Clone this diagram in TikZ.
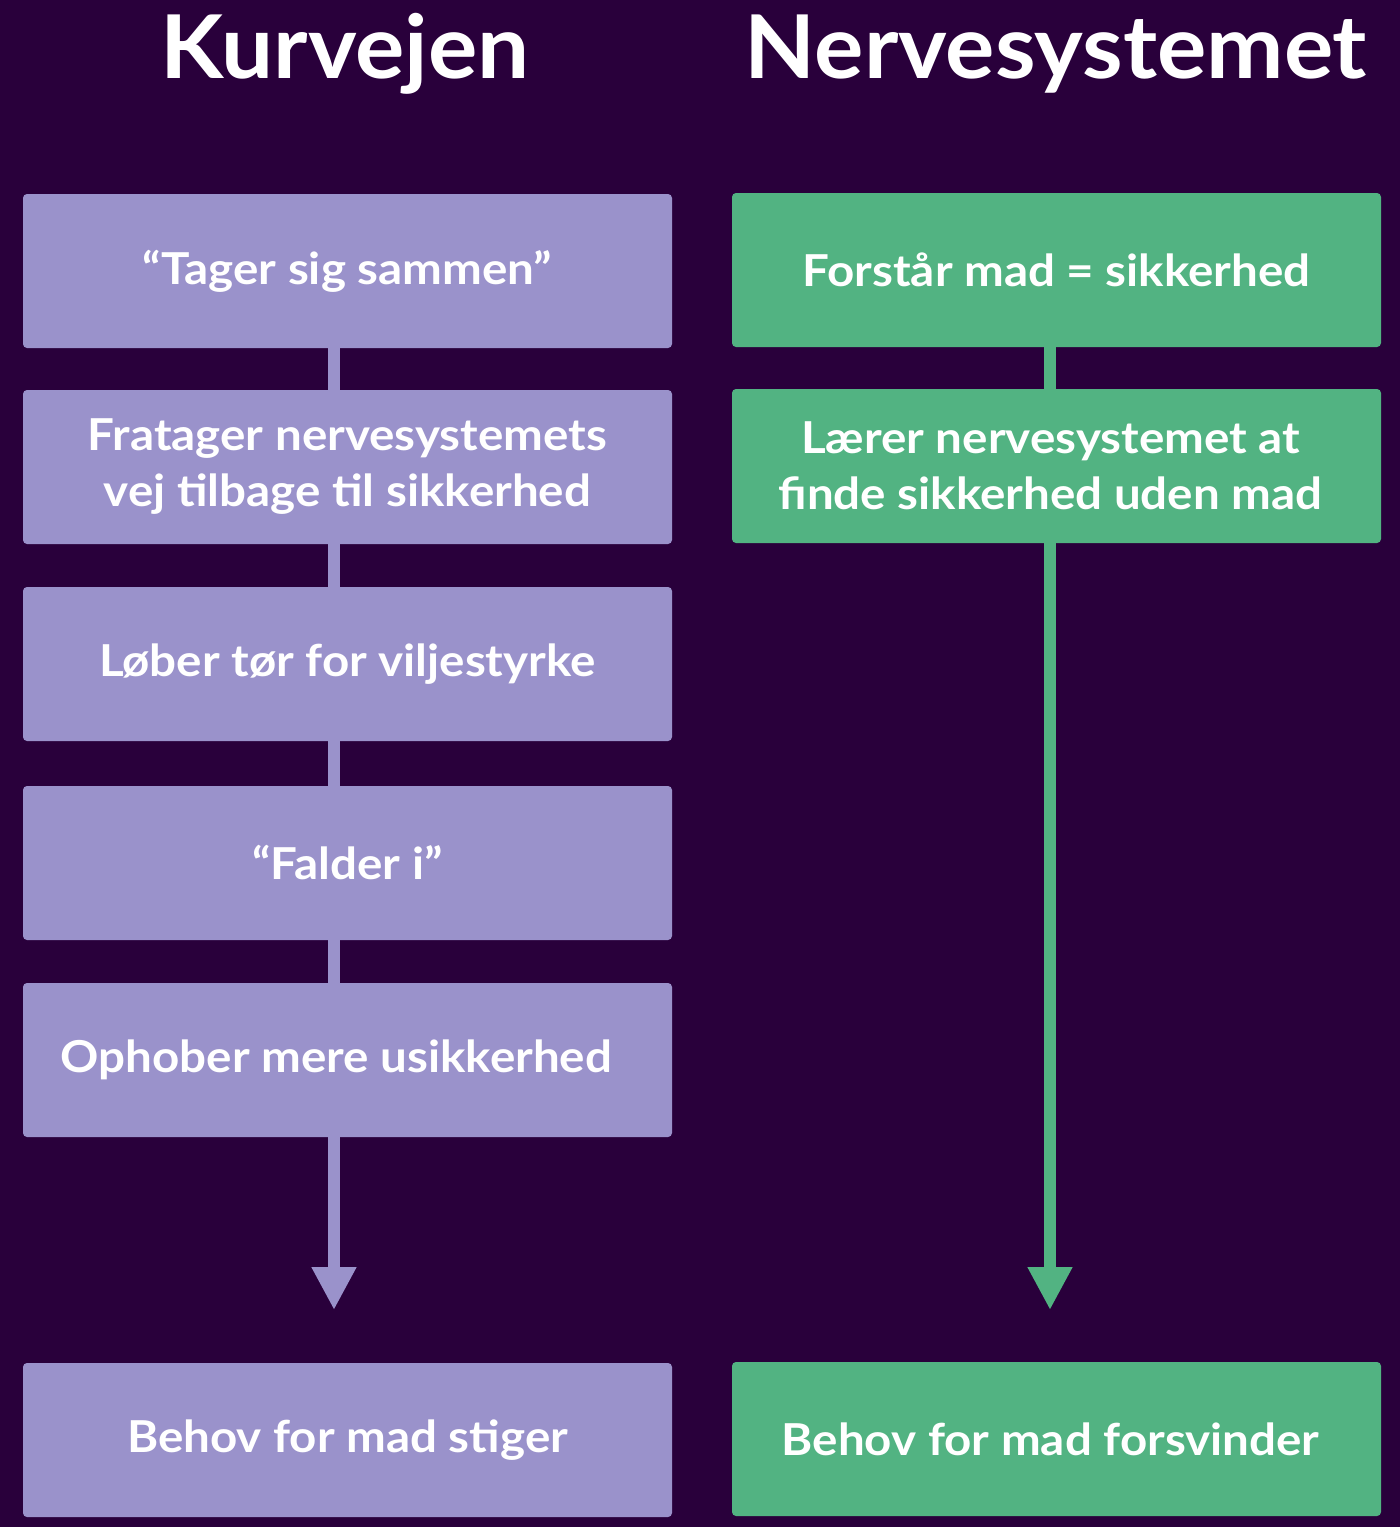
\documentclass[tikz,border=0pt]{standalone}
\usepackage{fontspec}
\setmainfont{Lato}[BoldFont={Lato Bold}]
\newfontfamily\bodyf{Lato}[BoldFont={Lato Bold}, FakeStretch=1.08]
\newfontfamily\titlef{Lato}[BoldFont={Lato Bold}, FakeStretch=1.05]
\usetikzlibrary{arrows.meta}
\definecolor{bgc}{HTML}{29003B}
\definecolor{lav}{HTML}{9A92CB}
\definecolor{grn}{HTML}{52B382}
\tikzset{
  box/.style={minimum width=649pt, minimum height=154pt, rounded corners=4pt, inner sep=0pt, text=white, align=center,
    font=\bodyf\fontsize{44}{56}\selectfont\bfseries},
  lbox/.style={box, fill=lav},
  gbox/.style={box, fill=grn},
  title/.style={text=white, font=\titlef\fontsize{88}{90}\selectfont\bfseries, inner sep=0pt, anchor=base},
  lcon/.style={draw=lav, line width=12pt},
  gcon/.style={draw=grn, line width=12pt},
}
\begin{document}
\begin{tikzpicture}[x=1pt,y=1pt]
\fill[bgc] (0,0) rectangle (1400,-1527);
\useasboundingbox (0,0) rectangle (1400,-1527);
\node[title] (t1) at (345,-78) {Kurvejen};
\node[title] (t2) at (1056,-78) {Nervesystemet};
% left column
\node[lbox] (l1) at (347.5,-271) {“Tager sig sammen”};
\node[lbox] (l2) at (347.5,-467) {Fratager nervesystemets\\vej tilbage til sikkerhed};
\node[lbox] (l3) at (347.5,-664) {Løber tør for viljestyrke};
\node[lbox] (l4) at (347.5,-863) {“Falder i”};
\node[lbox] (l5) at (347.5,-1060) {\hspace*{-22pt}Ophober mere usikkerhed};
\node[lbox] (l6) at (347.5,-1440) {Behov for mad stiger};
% right column
\node[gbox] (r1) at (1056.5,-270) {Forstår mad = sikkerhed};
\node[gbox] (r2) at (1056.5,-466) {\hspace*{-12pt}Lærer nervesystemet at\\\hspace*{-12pt}finde sikkerhed uden mad};
\node[gbox] (r3) at (1056.5,-1439) {\hspace*{-12pt}Behov for mad forsvinder};
\coordinate (la) at (334,-1310);
\coordinate (ra) at (1050,-1310);
% connectors
\draw[lcon] (l1.south -| la) -- (l2.north -| la);
\draw[lcon] (l2.south -| la) -- (l3.north -| la);
\draw[lcon] (l3.south -| la) -- (l4.north -| la);
\draw[lcon] (l4.south -| la) -- (l5.north -| la);
\draw[lcon, -{Triangle[width=42pt,length=43pt]}] (l5.south -| la) -- (la);
\draw[gcon] (r1.south -| ra) -- (r2.north -| ra);
\draw[gcon, -{Triangle[width=42pt,length=43pt]}] (r2.south -| ra) -- (ra);
\end{tikzpicture}
\end{document}
